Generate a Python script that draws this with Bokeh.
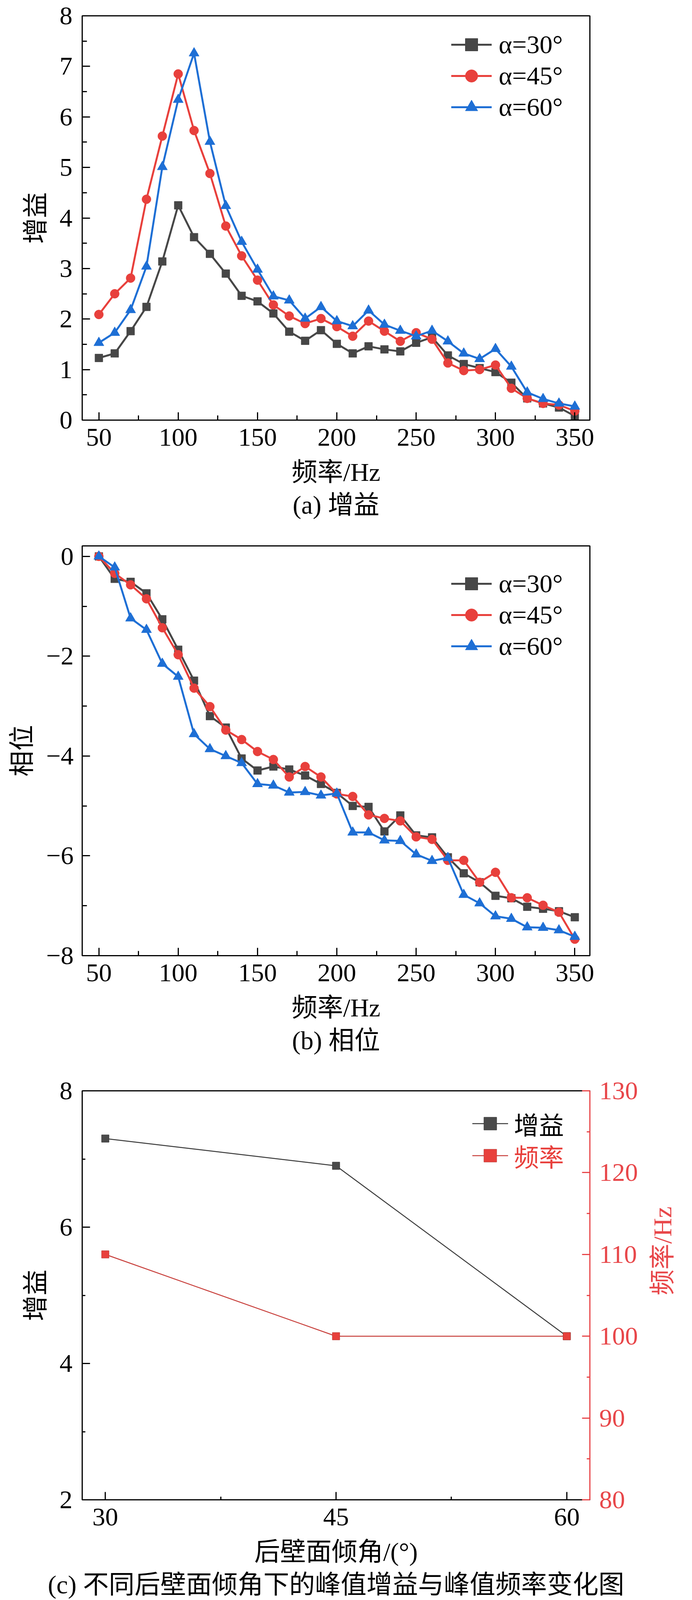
import math
from bokeh.plotting import figure
from bokeh.models import Range1d, LinearAxis, SingleIntervalTicker, Legend, LegendItem, Title
from bokeh.layouts import column
from bokeh.embed import file_html
from bokeh.resources import INLINE

# ---------------- data ----------------
freq = [50, 60, 70, 80, 90, 100, 110, 120, 130, 140, 150, 160, 170, 180, 190, 200,
        210, 220, 230, 240, 250, 260, 270, 280, 290, 300, 310, 320, 330, 340, 350]

gain_30 = [1.23, 1.32, 1.76, 2.24, 3.14, 4.25, 3.62, 3.29, 2.90, 2.46, 2.35, 2.11, 1.75, 1.57, 1.78, 1.51,
           1.32, 1.46, 1.40, 1.36, 1.53, 1.64, 1.28, 1.11, 1.03, 0.95, 0.74, 0.43, 0.33, 0.25, 0.08]
gain_45 = [2.09, 2.50, 2.81, 4.37, 5.62, 6.85, 5.73, 4.88, 3.84, 3.25, 2.77, 2.28, 2.06, 1.91, 2.01, 1.85,
           1.66, 1.96, 1.76, 1.56, 1.73, 1.60, 1.13, 0.98, 1.00, 1.09, 0.63, 0.43, 0.33, 0.30, 0.18]
gain_60 = [1.53, 1.73, 2.18, 3.04, 5.01, 6.34, 7.26, 5.51, 4.24, 3.53, 2.98, 2.45, 2.37, 2.01, 2.24, 1.96,
           1.86, 2.17, 1.89, 1.77, 1.66, 1.77, 1.56, 1.32, 1.21, 1.41, 1.06, 0.55, 0.42, 0.33, 0.27]

phase_30 = [0.00, -0.45, -0.51, -0.74, -1.26, -1.87, -2.49, -3.20, -3.43, -4.05, -4.29, -4.21, -4.27, -4.39, -4.56, -4.74,
            -5.00, -5.02, -5.51, -5.19, -5.59, -5.63, -6.03, -6.35, -6.53, -6.80, -6.85, -7.02, -7.06, -7.11, -7.23]
phase_45 = [0.00, -0.34, -0.57, -0.85, -1.43, -1.97, -2.64, -3.01, -3.48, -3.67, -3.91, -4.07, -4.42, -4.21, -4.42, -4.76,
            -4.81, -5.18, -5.25, -5.30, -5.62, -5.67, -6.09, -6.09, -6.53, -6.33, -6.84, -6.84, -6.99, -7.13, -7.67]
phase_60 = [0.00, -0.22, -1.24, -1.47, -2.15, -2.41, -3.56, -3.86, -4.00, -4.14, -4.56, -4.59, -4.73, -4.72, -4.79, -4.75,
            -5.53, -5.53, -5.69, -5.70, -5.97, -6.10, -6.04, -6.78, -6.95, -7.21, -7.26, -7.43, -7.44, -7.49, -7.62]

angle = [30, 45, 60]
peak_gain = [7.30, 6.90, 4.40]
peak_freq = [110, 100, 100]

series_labels = ["α=30°", "α=45°", "α=60°"]
phase_ticks = {0: "0", -2: "−2", -4: "−4", -6: "−6", -8: "−8"}

# ---------------- styles ----------------
NUM_FONT = "Liberation Serif"
CJK_FONT = "Liberation Serif, Noto Sans CJK SC"
FS = "66px"
C_BLK = "#474747"
C_RED = "#e8403c"
C_BLU = "#1e6fd5"
AX_RED = "#e8474a"

X_TICK_STANDOFF = 22
X_LABEL_STANDOFF = 28
Y_LABEL_STANDOFF = 22


def style_axis(ax, color="black", minor_in=12):
    ax.axis_line_width = 3
    ax.axis_line_color = color
    ax.major_tick_in = 20
    ax.major_tick_out = 0
    ax.minor_tick_in = minor_in
    ax.minor_tick_out = 0
    ax.major_tick_line_width = 3
    ax.minor_tick_line_width = 3
    ax.major_tick_line_color = color
    ax.minor_tick_line_color = color
    ax.major_label_text_font = NUM_FONT
    ax.major_label_text_font_size = FS
    ax.major_label_text_color = color
    ax.axis_label_text_font = CJK_FONT
    ax.axis_label_text_font_size = FS
    ax.axis_label_text_font_style = "normal"
    ax.axis_label_text_color = color


def make_fig(frame_h, b_top, b_bot, xr, yr):
    p = figure(frame_width=1300, frame_height=frame_h,
               min_border_left=210, min_border_right=246,
               min_border_top=b_top, min_border_bottom=b_bot,
               x_range=Range1d(*xr), y_range=Range1d(*yr),
               output_backend="svg", toolbar_location=None)
    p.grid.visible = False
    p.outline_line_color = "black"
    p.outline_line_width = 3
    p.outline_line_alpha = 1
    p.background_fill_color = "white"
    p.border_fill_color = "white"
    return p


def add_caption(p, text, standoff):
    t = Title(text=text, align="center", text_font=CJK_FONT, text_font_size=FS,
              text_font_style="normal", text_color="black", standoff=standoff)
    p.add_layout(t, "below")


def make_legend(p, items, x, y, font, font_size=FS, color="black", glyph_w=104, row_h=80, standoff=18):
    lg = Legend(items=items, location=(x, y), glyph_width=glyph_w, glyph_height=row_h,
                label_height=row_h, spacing=0, padding=0, margin=0,
                label_standoff=standoff, label_text_font=font,
                label_text_font_size=font_size, label_text_color=color,
                border_line_alpha=0, background_fill_alpha=0)
    p.add_layout(lg)
    return lg


def freq_panel(p, ys):
    items = []
    specs = [("square", 20, C_BLK), ("circle", 23, C_RED), ("triangle", 26, C_BLU)]
    for (mk, sz, col), y, lab in zip(specs, ys, series_labels):
        l = p.line(freq, y, line_color=col, line_width=5)
        s = p.scatter(freq, y, marker=mk, size=sz, fill_color=col, line_color=col)
        items.append(LegendItem(label=lab, renderers=[l, s]))
    return items


def style_xy(p, xlabel, ylabel, y_tick_standoff):
    p.xaxis.axis_label = xlabel
    p.yaxis.axis_label = ylabel
    p.xaxis.major_label_standoff = X_TICK_STANDOFF
    p.xaxis.axis_label_standoff = X_LABEL_STANDOFF
    p.yaxis.major_label_standoff = y_tick_standoff
    p.yaxis.axis_label_standoff = Y_LABEL_STANDOFF


# ---------------- (a) gain ----------------
p1 = make_fig(1035, 40, 282, (39.5, 359.5), (0, 8))
p1.xaxis.ticker = SingleIntervalTicker(interval=50, num_minor_ticks=2)
p1.yaxis.ticker = SingleIntervalTicker(interval=1, num_minor_ticks=2)
for ax in p1.xaxis + p1.yaxis:
    style_axis(ax)
style_xy(p1, "频率/Hz", "增益", 25)
items1 = freq_panel(p1, [gain_30, gain_45, gain_60])
make_legend(p1, items1, 945, 1035 - 34 - 240, NUM_FONT)
add_caption(p1, "(a) 增益", 12)

# ---------------- (b) phase ----------------
p2 = make_fig(1049, 40, 281, (39.5, 359.5), (-8, 0.21))
p2.xaxis.ticker = SingleIntervalTicker(interval=50, num_minor_ticks=2)
p2.yaxis.ticker = SingleIntervalTicker(interval=2, num_minor_ticks=2)
p2.yaxis.major_label_overrides = phase_ticks
for ax in p2.xaxis + p2.yaxis:
    style_axis(ax)
style_xy(p2, "频率/Hz", "相位", 22)
items2 = freq_panel(p2, [phase_30, phase_45, phase_60])
make_legend(p2, items2, 945, 1049 - 57 - 240, NUM_FONT)
add_caption(p2, "(b) 相位", 12)

# ---------------- (c) peak gain / peak frequency ----------------
p3 = make_fig(1047, 65, 268, (28.5, 61.5), (2, 8))
p3.extra_y_ranges = {"freq": Range1d(80, 130)}
p3.xaxis.ticker = SingleIntervalTicker(interval=15, num_minor_ticks=2)
p3.yaxis.ticker = SingleIntervalTicker(interval=2, num_minor_ticks=2)
for ax in p3.xaxis + p3.yaxis:
    style_axis(ax, minor_in=8)
style_xy(p3, "后壁面倾角/(°)", "增益", 25)

rax = LinearAxis(y_range_name="freq", ticker=SingleIntervalTicker(interval=10, num_minor_ticks=2))
style_axis(rax, color=AX_RED, minor_in=8)
rax.axis_label = "频率/Hz"
rax.axis_label_orientation = math.pi / 2
rax.major_label_standoff = 24
rax.axis_label_standoff = 60
p3.add_layout(rax, "right")

lg_line = p3.line(angle, peak_gain, line_color="#3a3a3a", line_width=2.5)
lg_pts = p3.scatter(angle, peak_gain, marker="square", size=19, fill_color="#4a4a4a", line_color="#333333")
lf_line = p3.line(angle, peak_freq, y_range_name="freq", line_color="#c8403c", line_width=2.5)
lf_pts = p3.scatter(angle, peak_freq, y_range_name="freq", marker="square", size=19,
                    fill_color=C_RED, line_color="#b83a36")

make_legend(p3, [LegendItem(label="增益", renderers=[lg_line, lg_pts])], 999, 1047 - 48 - 82,
            CJK_FONT, font_size="64px", color="black", glyph_w=92, row_h=82, standoff=15)
make_legend(p3, [LegendItem(label="频率", renderers=[lf_line, lf_pts])], 999, 1047 - 48 - 164,
            CJK_FONT, font_size="64px", color=C_RED, glyph_w=92, row_h=82, standoff=15)
add_caption(p3, "(c) 不同后壁面倾角下的峰值增益与峰值频率变化图", 12)

layout = column(p1, p2, p3)
open("out.html", "w").write(file_html(layout, INLINE))
